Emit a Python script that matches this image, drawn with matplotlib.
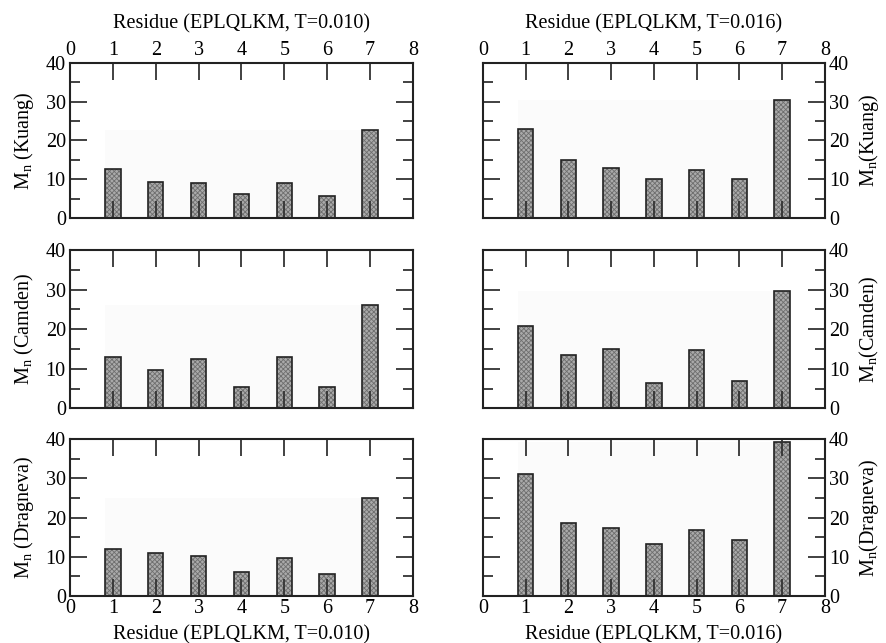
import numpy as np
from matplotlib import pyplot as plt
from matplotlib.ticker import MultipleLocator

plt.rcParams['font.family'] = ['Liberation Serif', 'DejaVu Serif']
plt.rcParams['mathtext.fontset'] = 'custom'
plt.rcParams['mathtext.rm'] = 'Liberation Serif'
plt.rcParams['mathtext.it'] = 'Liberation Serif'
plt.rcParams['hatch.linewidth'] = 0.6

residues = [1, 2, 3, 4, 5, 6, 7]

kuang_010 = [12.6, 9.4, 9.1, 6.2, 9.0, 5.8, 22.7]
kuang_016 = [23.0, 15.0, 13.0, 10.1, 12.5, 10.0, 30.4]
camden_010 = [13.0, 9.8, 12.4, 5.5, 13.0, 5.5, 26.2]
camden_016 = [20.7, 13.4, 15.0, 6.5, 14.7, 6.9, 29.7]
dragneva_010 = [12.0, 11.0, 10.1, 6.1, 9.7, 5.7, 25.0]
dragneva_016 = [31.1, 18.5, 17.3, 13.4, 16.9, 14.2, 39.3]

left_title = 'Residue (EPLQLKM, T=0.010)'
right_title = 'Residue (EPLQLKM, T=0.016)'
left_ylabels = [r'M$_\mathregular{n}$ (Kuang)', r'M$_\mathregular{n}$ (Camden)', r'M$_\mathregular{n}$ (Dragneva)']
right_ylabels = [r'M$_\mathregular{n}$(Kuang)', r'M$_\mathregular{n}$(Camden)', r'M$_\mathregular{n}$(Dragneva)']

data = [[kuang_010, kuang_016], [camden_010, camden_016], [dragneva_010, dragneva_016]]

fig = plt.figure(figsize=(8.86, 6.43), dpi=100)

fs = 14.5
bw = 0.36
rows = [(0.661, 0.902), (0.365, 0.611), (0.073, 0.317)]
cols = [(0.079, 0.466), (0.545, 0.931)]

for r, (y0, y1) in enumerate(rows):
    for c, (x0, x1) in enumerate(cols):
        ax = fig.add_axes([x0, y0, x1 - x0, y1 - y0])
        vals = data[r][c]
        x = np.array(residues)

        # faint background band behind bars
        ax.fill_between([x[0] - bw / 2, x[-1] + bw / 2], 0, max(vals),
                        color='#fbfbfb', lw=0, zorder=0)
        ax.bar(x, vals, width=bw, facecolor='#aaaaaa', edgecolor='#6e6e6e',
               hatch='xxxxxxx', lw=0, zorder=1)
        ax.bar(x, vals, width=bw, fill=False, edgecolor='#222222', lw=1.2, zorder=1.5)

        ax.set_xlim(0, 8)
        ax.set_ylim(0, 40)
        ax.xaxis.set_major_locator(MultipleLocator(1))
        ax.yaxis.set_major_locator(MultipleLocator(10))
        ax.yaxis.set_minor_locator(MultipleLocator(5))

        ax.tick_params(axis='both', which='major', direction='in', length=12,
                       width=1.3, color='#333333', labelsize=fs)
        ax.tick_params(axis='y', which='minor', direction='in', length=7,
                       width=1.3, color='#333333')
        ax.tick_params(axis='x', top=True, bottom=True, labeltop=(r == 0),
                       labelbottom=(r == 2), pad=2)
        ax.tick_params(axis='y', which='both', left=True, right=True,
                       labelleft=(c == 0), labelright=(c == 1), pad=3)

        for s in ax.spines.values():
            s.set_linewidth(1.5)
            s.set_color('#222222')

        if r == 0:
            ax.xaxis.set_label_position('top')
            ax.set_xlabel(left_title if c == 0 else right_title, fontsize=fs, labelpad=9)
        if r == 2:
            ax.set_xlabel(left_title if c == 0 else right_title, fontsize=fs, labelpad=5)

        if c == 0:
            ax.set_ylabel(left_ylabels[r], fontsize=fs, labelpad=7)
        else:
            ax.yaxis.set_label_position('right')
            ax.set_ylabel(right_ylabels[r], fontsize=fs, labelpad=6)

plt.savefig('out.png', dpi=100)
